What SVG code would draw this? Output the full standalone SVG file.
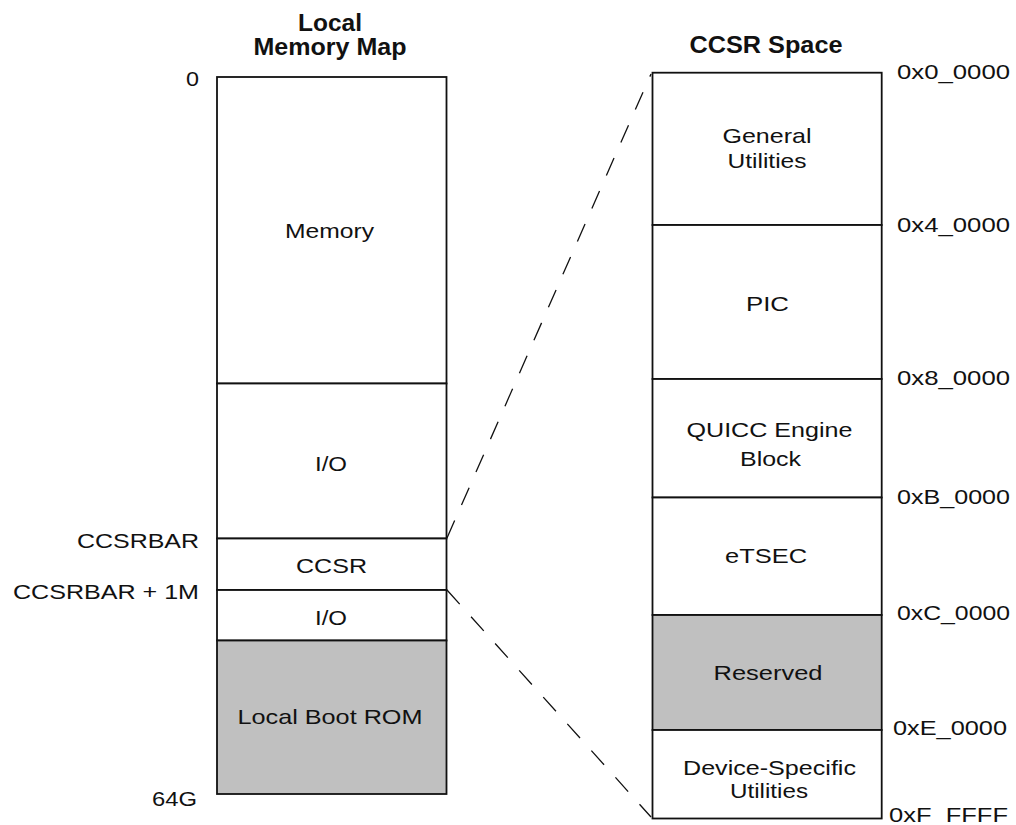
<svg xmlns="http://www.w3.org/2000/svg" width="1016" height="825" viewBox="0 0 1016 825">
  <style>
    .blk { stroke: #111; stroke-width: 1.8; fill: #fff; }
    .rsv { fill: #c0c0c0; }
    .lbl { font-family: "Liberation Sans", Arial, sans-serif; font-size: 21px; fill: #111; }
    .ttl { font-family: "Liberation Sans", Arial, sans-serif; font-size: 24px; font-weight: bold; fill: #111; text-anchor: middle; }
    .mid { text-anchor: middle; }
    .end { text-anchor: end; }
    .map { stroke: #111; stroke-width: 1.3; fill: none; stroke-dasharray: 19 17; }
  </style>

  <!-- titles -->
  <g id="title-local">
    <text class="ttl" x="330" y="30.5" textLength="64" lengthAdjust="spacingAndGlyphs">Local</text>
    <text class="ttl" x="330" y="55" textLength="153" lengthAdjust="spacingAndGlyphs">Memory Map</text>
  </g>
  <g id="title-ccsr">
    <text class="ttl" x="766" y="53" textLength="153" lengthAdjust="spacingAndGlyphs">CCSR Space</text>
  </g>

  <!-- local address labels -->
  <g id="local-addresses">
    <text class="lbl end" x="199" y="85.5" textLength="13" lengthAdjust="spacingAndGlyphs">0</text>
    <text class="lbl end" x="199" y="548" textLength="122" lengthAdjust="spacingAndGlyphs">CCSRBAR</text>
    <text class="lbl end" x="199" y="599" textLength="186" lengthAdjust="spacingAndGlyphs">CCSRBAR + 1M</text>
    <text class="lbl end" x="197" y="805.5" textLength="45" lengthAdjust="spacingAndGlyphs">64G</text>
  </g>

  <!-- local memory map regions -->
  <g id="local-memory">
    <rect class="blk" x="217" y="77" width="229.5" height="306.5"/>
    <text class="lbl mid" x="329.5" y="238" textLength="89" lengthAdjust="spacingAndGlyphs">Memory</text>
  </g>
  <g id="local-io-upper">
    <rect class="blk" x="217" y="383.5" width="229.5" height="155"/>
    <text class="lbl mid" x="331" y="471" textLength="32" lengthAdjust="spacingAndGlyphs">I/O</text>
  </g>
  <g id="local-ccsr">
    <rect class="blk" x="217" y="538.5" width="229.5" height="51.5"/>
    <text class="lbl mid" x="331.5" y="573" textLength="71" lengthAdjust="spacingAndGlyphs">CCSR</text>
  </g>
  <g id="local-io-lower">
    <rect class="blk" x="217" y="590" width="229.5" height="50.5"/>
    <text class="lbl mid" x="331" y="625" textLength="32" lengthAdjust="spacingAndGlyphs">I/O</text>
  </g>
  <g id="local-boot-rom">
    <rect class="blk rsv" x="217" y="640.5" width="229.5" height="153.5"/>
    <text class="lbl mid" x="330" y="724" textLength="185" lengthAdjust="spacingAndGlyphs">Local Boot ROM</text>
  </g>

  <!-- CCSR space regions -->
  <g id="ccsr-general-utilities">
    <rect class="blk" x="652.5" y="72.7" width="229.2" height="152.3"/>
    <text class="lbl mid" x="767" y="143" textLength="89" lengthAdjust="spacingAndGlyphs">General</text>
    <text class="lbl mid" x="767" y="168" textLength="79" lengthAdjust="spacingAndGlyphs">Utilities</text>
  </g>
  <g id="ccsr-pic">
    <rect class="blk" x="652.5" y="225" width="229.2" height="154"/>
    <text class="lbl mid" x="767.5" y="311" textLength="43" lengthAdjust="spacingAndGlyphs">PIC</text>
  </g>
  <g id="ccsr-quicc">
    <rect class="blk" x="652.5" y="379" width="229.2" height="118.5"/>
    <text class="lbl mid" x="769.5" y="436.5" textLength="166" lengthAdjust="spacingAndGlyphs">QUICC Engine</text>
    <text class="lbl mid" x="770.5" y="466" textLength="61" lengthAdjust="spacingAndGlyphs">Block</text>
  </g>
  <g id="ccsr-etsec">
    <rect class="blk" x="652.5" y="497.5" width="229.2" height="117.5"/>
    <text class="lbl mid" x="766" y="563" textLength="82" lengthAdjust="spacingAndGlyphs">eTSEC</text>
  </g>
  <g id="ccsr-reserved">
    <rect class="blk rsv" x="652.5" y="615" width="229.2" height="115"/>
    <text class="lbl mid" x="768" y="680" textLength="109" lengthAdjust="spacingAndGlyphs">Reserved</text>
  </g>
  <g id="ccsr-device-specific">
    <rect class="blk" x="652.5" y="730" width="229.2" height="88.5"/>
    <text class="lbl mid" x="769.5" y="775" textLength="173" lengthAdjust="spacingAndGlyphs">Device-Specific</text>
    <text class="lbl mid" x="769" y="798" textLength="78" lengthAdjust="spacingAndGlyphs">Utilities</text>
  </g>

  <!-- CCSR offsets -->
  <g id="ccsr-offsets">
    <text class="lbl" x="897" y="79" textLength="113" lengthAdjust="spacingAndGlyphs">0x0_0000</text>
    <text class="lbl" x="897" y="232" textLength="113" lengthAdjust="spacingAndGlyphs">0x4_0000</text>
    <text class="lbl" x="897" y="385" textLength="113" lengthAdjust="spacingAndGlyphs">0x8_0000</text>
    <text class="lbl" x="897" y="504" textLength="113" lengthAdjust="spacingAndGlyphs">0xB_0000</text>
    <text class="lbl" x="897" y="620" textLength="113" lengthAdjust="spacingAndGlyphs">0xC_0000</text>
    <text class="lbl" x="893" y="735" textLength="114" lengthAdjust="spacingAndGlyphs">0xE_0000</text>
    <text class="lbl" x="889" y="822" textLength="119" lengthAdjust="spacingAndGlyphs">0xF_FFFF</text>
  </g>

  <!-- dashed expansion lines from the CCSR window to the CCSR space -->
  <g id="connectors">
    <path class="map" d="M447,538 L651,74"/>
    <path class="map" d="M447,590 L651,817"/>
  </g>
</svg>
